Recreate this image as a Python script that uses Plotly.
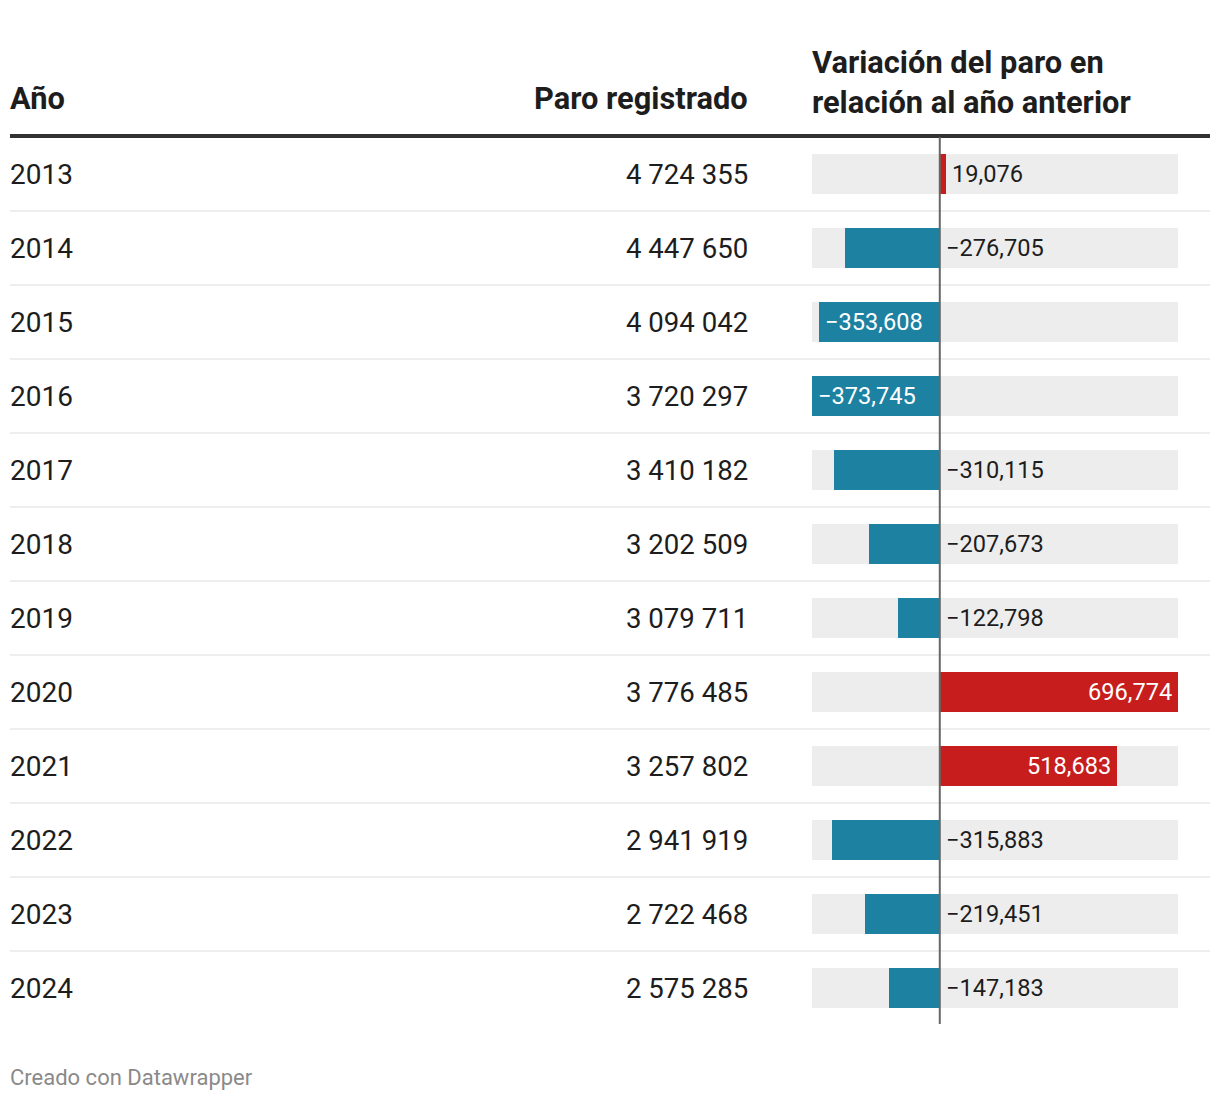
import plotly.graph_objects as go

years = ["2013", "2014", "2015", "2016", "2017", "2018", "2019", "2020", "2021", "2022", "2023", "2024"]
paro = [4724355, 4447650, 4094042, 3720297, 3410182, 3202509, 3079711, 3776485, 3257802, 2941919, 2722468, 2575285]
variacion = [19076, -276705, -353608, -373745, -310115, -207673, -122798, 696774, 518683, -315883, -219451, -147183]

header_year = "Año"
header_paro = "Paro registrado"
header_var = "Variación del paro en<br>relación al año anterior"
footer = "Creado con Datawrapper"

W, H = 1220, 1100
FONT = "Roboto"
BLUE = "#1d81a2"
RED = "#c71e1d"
BG = "#ededed"
TXT = "#1d1d1d"

bar_left, bar_right = 812, 1178
row0, row_h = 174, 74
vmin, vmax = min(variacion), max(variacion)
xr = [vmin, vmax]
px_per_unit = (bar_right - bar_left) / (vmax - vmin)

idx = list(range(len(years)))
yr = [(H - row0) / row_h, -row0 / row_h]

def fmt_paro(v):
    return f"{v:,}".replace(",", " ")

def fmt_var(v):
    s = f"{abs(v):,}"
    return ("\u2212" + s) if v < 0 else s

fig = go.Figure()
# background bars
fig.add_trace(go.Bar(
    y=idx, x=[vmax - vmin] * len(idx), base=[vmin] * len(idx), orientation="h",
    marker=dict(color=BG, line=dict(width=0)), width=40 / row_h, hoverinfo="skip",
    showlegend=False))
# value bars
fig.add_trace(go.Bar(
    y=idx, x=variacion, orientation="h",
    marker=dict(color=[RED if v > 0 else BLUE for v in variacion], line=dict(width=0)),
    width=40 / row_h, hoverinfo="skip", showlegend=False))

ann = []
shapes = []
for i, (yv, p, v) in enumerate(zip(years, paro, variacion)):
    ann.append(dict(x=10 / W, xref="paper", y=i, yref="y", text=yv, showarrow=False,
                    xanchor="left", yanchor="middle", font=dict(family=FONT, size=28, color=TXT)))
    ann.append(dict(x=748 / W, xref="paper", y=i, yref="y", text=fmt_paro(p), showarrow=False,
                    xanchor="right", yanchor="middle", font=dict(family=FONT, size=27.6, color=TXT)))
    label = fmt_var(v)
    label_w = len(label) * 12.6
    bar_px = abs(v) * px_per_unit
    inside = bar_px > label_w + 14
    if inside:
        if v < 0:
            a = dict(x=v, xanchor="left", xshift=6)
        else:
            a = dict(x=v, xanchor="right", xshift=-6)
        col = "white"
    else:
        a = dict(x=max(v, 0), xanchor="left", xshift=6)
        col = TXT
    a.update(xref="x", y=i, yref="y", text=label, showarrow=False, yanchor="middle",
             font=dict(family=FONT, size=23.6, color=col))
    ann.append(a)
    if i < len(years) - 1:
        shapes.append(dict(type="line", xref="paper", yref="y", x0=10 / W, x1=1210 / W,
                           y0=i + 0.5, y1=i + 0.5, line=dict(color="#eeeeee", width=2)))

# headers
ann.append(dict(x=10 / W, xref="paper", y=99, yref="paper", text="<b>" + header_year + "</b>",
                showarrow=False, xanchor="left", yanchor="middle",
                font=dict(family=FONT, size=30.8, color=TXT)))
ann.append(dict(x=748 / W, xref="paper", y=99, yref="paper", text="<b>" + header_paro + "</b>",
                showarrow=False, xanchor="right", yanchor="middle",
                font=dict(family=FONT, size=30.8, color=TXT)))
ann.append(dict(x=812 / W, xref="paper", y=82, yref="paper", text="<b>" + header_var + "</b>",
                showarrow=False, xanchor="left", yanchor="middle", align="left",
                font=dict(family=FONT, size=30.8, color=TXT)))
ann.append(dict(x=10 / W, xref="paper", y=1077, yref="paper", text=footer,
                showarrow=False, xanchor="left", yanchor="middle",
                font=dict(family=FONT, size=22, color="#8a8a8a")))

# convert header paper y (pixels from top) to paper fraction; remove annotation padding
for a in ann:
    if a.get("yref") == "paper":
        a["y"] = 1 - a["y"] / H
    a["borderpad"] = 0
    a["borderwidth"] = 0

shapes.append(dict(type="line", xref="paper", yref="paper", x0=10 / W, x1=1210 / W,
                   y0=1 - 136 / H, y1=1 - 136 / H, line=dict(color="#333333", width=4)))
shapes.append(dict(type="line", xref="x", yref="paper", x0=0, x1=0,
                   y0=1 - 137 / H, y1=1 - 1024 / H, line=dict(color="#666666", width=2)))

fig.update_layout(
    width=W, height=H, margin=dict(l=0, r=0, t=0, b=0),
    paper_bgcolor="white", plot_bgcolor="rgba(0,0,0,0)",
    barmode="overlay", bargap=0,
    xaxis=dict(domain=[bar_left / W, bar_right / W], range=xr, visible=False, fixedrange=True),
    yaxis=dict(domain=[0, 1], range=yr, visible=False, fixedrange=True),
    annotations=ann, shapes=shapes, showlegend=False,
)

fig.write_html("out.html", config={"displayModeBar": False},
               post_script="document.body.style.margin='0';document.body.style.overflow='hidden';")
